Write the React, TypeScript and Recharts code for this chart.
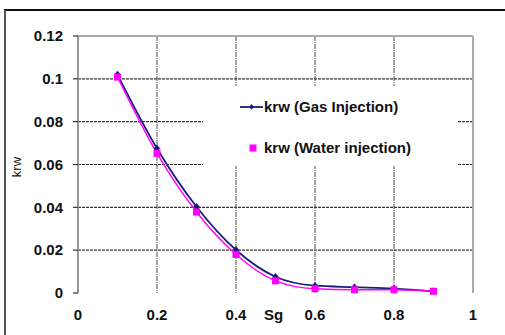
import React from "react";
import {
  LineChart,
  Line,
  XAxis,
  YAxis,
  CartesianGrid,
  ReferenceLine,
  Legend,
  Label,
} from "recharts";

// Gas saturation (Sg) sample points
const sg = [0.1, 0.2, 0.3, 0.4, 0.5, 0.6, 0.7, 0.8, 0.9];
// Water relative permeability, gas injection
const krwGas = [0.102, 0.0675, 0.0403, 0.0201, 0.0076, 0.0034, 0.0027, 0.002, 0.0008];
// Water relative permeability, water injection
const krwWater = [0.1008, 0.0652, 0.0378, 0.018, 0.0057, 0.002, 0.0015, 0.0015, 0.0008];

const xTicks = [0, 0.2, 0.4, 0.6, 0.8, 1];
const yTicks = [0, 0.02, 0.04, 0.06, 0.08, 0.1, 0.12];
const hGrid = [0.02, 0.04, 0.06, 0.08, 0.1];
const vGrid = [0.2, 0.4, 0.6, 0.8];

const seriesNames = {
  gas: "krw (Gas Injection)",
  water: "krw (Water injection)",
};

const data = sg.map((s, i) => ({ sg: s, gas: krwGas[i], water: krwWater[i] }));

const FONT = "'Liberation Sans', Arial, sans-serif";
const NAVY = "#1c1c7a";
const MAGENTA = "#ff00ff";

const Diamond = (props: any) => {
  const { cx, cy } = props;
  if (cx == null || cy == null) return null;
  return (
    <path
      d={`M${cx},${cy - 3.5} L${cx + 3},${cy} L${cx},${cy + 3} L${cx - 3},${cy} Z`}
      fill={NAVY}
      stroke={NAVY}
      strokeWidth={0.5}
    />
  );
};

const Square = (props: any) => {
  const { cx, cy } = props;
  if (cx == null || cy == null) return null;
  return <rect x={cx - 3.5} y={cy - 3.5} width={7} height={7} fill={MAGENTA} />;
};

const rowStyle: React.CSSProperties = {
  position: "absolute",
  left: 37,
  display: "flex",
  alignItems: "center",
  lineHeight: "17px",
  whiteSpace: "nowrap",
};

const LegendBox = () => (
  <div
    style={{
      width: "100%",
      height: "100%",
      background: "#fff",
      fontFamily: FONT,
      fontWeight: "bold",
      fontSize: 15,
      color: "#111",
      position: "relative",
    }}
  >
    <div style={{ ...rowStyle, top: 12 }}>
      <svg width={23} height={10} style={{ marginRight: 1 }}>
        <line x1={0} y1={5} x2={23} y2={5} stroke={NAVY} strokeWidth={1.8} />
        <path d="M11.5,2 L14,5 L11.5,7.5 L9,5 Z" fill={NAVY} />
      </svg>
      <span>{seriesNames.gas}</span>
    </div>
    <div style={{ ...rowStyle, top: 53 }}>
      <svg width={23} height={10} style={{ marginRight: 1 }}>
        <rect x={9.5} y={1.5} width={7} height={7} fill={MAGENTA} />
      </svg>
      <span>{seriesNames.water}</span>
    </div>
  </div>
);

const tickFont = { fontFamily: FONT, fontWeight: "bold", fontSize: 15, fill: "#111" };

export default function App() {
  return (
    <div
      style={{
        position: "absolute",
        left: 0,
        top: 0,
        width: 505,
        height: 335,
        overflow: "hidden",
        background: "#fff",
      }}
    >
      <div
        style={{
          position: "absolute",
          left: 4,
          top: 9,
          width: 600,
          height: 400,
          borderTop: "2px solid #111",
          borderLeft: "2px solid #555",
        }}
      />
      <div style={{ position: "absolute", left: 0, top: 0 }}>
        <LineChart
          width={505}
          height={335}
          data={data}
          margin={{ top: 36, right: 32, bottom: 12, left: 8 }}
        >
          <CartesianGrid
            horizontal={false}
            verticalValues={vGrid}
            stroke="#777"
            strokeDasharray="5 1 1 1"
            strokeWidth={1.3}
          />
          <CartesianGrid
            vertical={false}
            horizontalValues={hGrid}
            stroke="#333"
            strokeDasharray="3 1"
            strokeWidth={1.1}
          />
          <ReferenceLine y={0.12} stroke="#aaa" strokeWidth={2} />
          <ReferenceLine x={1} stroke="#aaa" strokeWidth={2} />
          <XAxis
            type="number"
            dataKey="sg"
            domain={[0, 1]}
            ticks={xTicks}
            axisLine={false}
            tickLine={false}
            tickSize={0}
            tickMargin={16}
            height={30}
            tick={tickFont}
          >
            <Label
              value="Sg"
              content={(p: any) => {
                const vb = p.viewBox;
                return (
                  <text
                    x={vb.x + vb.width * 0.495}
                    y={vb.y + 27}
                    textAnchor="middle"
                    fontFamily={FONT}
                    fontWeight="bold"
                    fontSize={15}
                    fill="#111"
                  >
                    Sg
                  </text>
                );
              }}
            />
          </XAxis>
          <YAxis
            type="number"
            domain={[0, 0.12]}
            ticks={yTicks}
            width={70}
            axisLine={{ stroke: "#999", strokeWidth: 2 }}
            tickLine={{ stroke: "#333", strokeWidth: 1.2 }}
            tickSize={5}
            tickMargin={10}
            tick={tickFont}
          >
            <Label
              value="krw"
              content={(p: any) => {
                const vb = p.viewBox;
                const cx = vb.x + 9;
                const cy = vb.y + vb.height * 0.51;
                return (
                  <text
                    x={cx}
                    y={cy}
                    transform={`rotate(-90, ${cx}, ${cy})`}
                    textAnchor="middle"
                    dominantBaseline="central"
                    fontFamily={FONT}
                    fontSize={13}
                    fill="#111"
                  >
                    krw
                  </text>
                );
              }}
            />
          </YAxis>
          <Legend
            layout="horizontal"
            verticalAlign="middle"
            align="center"
            content={() => <LegendBox />}
            wrapperStyle={{ position: "absolute", left: 203, top: 86, width: 255, height: 80 }}
          />
          <Line
            type="monotone"
            dataKey="gas"
            name={seriesNames.gas}
            stroke={NAVY}
            strokeWidth={1.8}
            dot={<Diamond />}
            activeDot={false}
            isAnimationActive={false}
          />
          <Line
            type="monotone"
            dataKey="water"
            name={seriesNames.water}
            stroke={MAGENTA}
            strokeWidth={1.4}
            dot={<Square />}
            activeDot={false}
            isAnimationActive={false}
          />
        </LineChart>
      </div>
    </div>
  );
}
